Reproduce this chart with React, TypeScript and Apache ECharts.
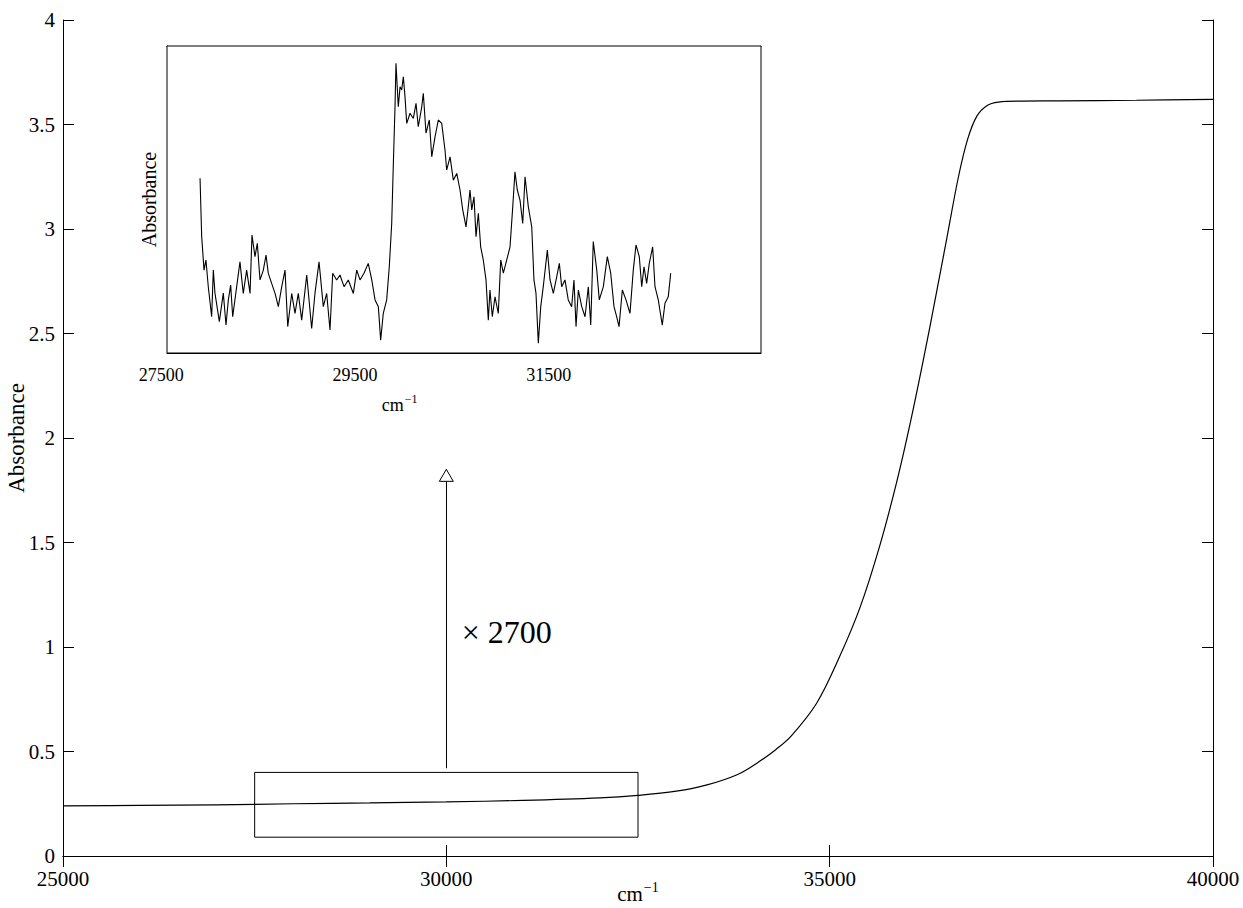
import React, { useEffect, useRef } from "react";
import * as echarts from "echarts";

const FONT = "'Liberation Serif', 'Times New Roman', Times, serif";

// Main spectrum (wavenumber in cm^-1, absorbance)
const mainWavenumber = [
  25000, 26000, 27000, 28000, 29000, 30000, 31000, 32000, 32500, 33000, 33400,
  33800, 34050, 34300, 34500, 34830, 35130, 35400, 35650, 35870, 36050, 36220,
  36380, 36530, 36680, 36800, 36920, 37050, 37200, 37500, 38000, 39000, 40000,
];
const mainAbsorbance = [
  0.24, 0.242, 0.245, 0.25, 0.254, 0.259, 0.266, 0.278, 0.29, 0.31, 0.34,
  0.39, 0.444, 0.51, 0.575, 0.731, 0.954, 1.193, 1.48, 1.783, 2.07, 2.37,
  2.67, 2.96, 3.25, 3.43, 3.54, 3.59, 3.607, 3.612, 3.613, 3.616, 3.62,
];

// Inset: magnified (x2700) region, relative units 0..100
const insetWavenumber = [
  27901, 27918, 27942, 27962, 27986, 28021, 28038, 28055, 28100, 28141, 28169,
  28193, 28217, 28238, 28279, 28313, 28347, 28382, 28417, 28437, 28468, 28492,
  28520, 28554, 28582, 28605, 28640, 28675, 28709, 28744, 28778, 28806, 28847,
  28881, 28915, 28950, 29002, 29053, 29087, 29129, 29173, 29208, 29242, 29270,
  29311, 29345, 29387, 29431, 29483, 29518, 29552, 29593, 29637, 29673, 29707,
  29741, 29765, 29792, 29827, 29854, 29879, 29895, 29913, 29923, 29947, 29965,
  29982, 29999, 30016, 30034, 30068, 30102, 30130, 30153, 30189, 30205, 30233,
  30267, 30292, 30326, 30360, 30395, 30429, 30446, 30481, 30515, 30550, 30584,
  30612, 30646, 30669, 30687, 30705, 30728, 30749, 30773, 30797, 30824, 30852,
  30876, 30893, 30917, 30945, 30979, 31004, 31031, 31066, 31100, 31128, 31151,
  31175, 31203, 31231, 31255, 31289, 31324, 31347, 31368, 31392, 31417, 31443,
  31485, 31513, 31547, 31582, 31609, 31633, 31667, 31701, 31736, 31760, 31781,
  31805, 31840, 31874, 31908, 31933, 31959, 31995, 32021, 32063, 32104, 32139,
  32173, 32201, 32225, 32259, 32297, 32338, 32372, 32400, 32434, 32459, 32483,
  32510, 32537, 32572, 32596, 32630, 32671, 32699, 32733, 32758,
];
const insetSignal = [
  56.9, 37.9, 27.0, 30.3, 21.6, 11.8, 27.0, 19.5, 10.2, 19.5, 9.1,
  17.3, 22.1, 11.8, 21.6, 29.7, 19.4, 27.0, 19.4, 38.4, 31.4, 35.7,
  23.8, 27.0, 31.9, 26.0, 22.7, 19.4, 15.1, 21.6, 27.0, 8.6, 19.4,
  12.9, 19.4, 10.7, 25.4, 8.0, 19.4, 29.7, 15.1, 19.4, 7.5, 26.0,
  23.8, 25.4, 21.6, 23.8, 19.4, 27.0, 23.8, 26.0, 29.2, 23.8, 17.3,
  15.1, 4.2, 12.9, 17.3, 28.1, 42.2, 60.7, 80.2, 94.4, 80.2, 86.7,
  85.7, 90.0, 83.5, 74.8, 78.1, 76.4, 81.3, 73.7, 80.2, 84.6, 71.6,
  75.9, 63.9, 70.4, 75.9, 74.8, 66.1, 59.6, 63.9, 56.3, 58.5, 53.1,
  46.6, 41.1, 47.6, 53.1, 46.6, 50.9, 37.9, 45.5, 34.6, 30.3, 23.8,
  10.7, 20.5, 11.8, 18.3, 12.9, 30.3, 26.0, 30.3, 34.6, 47.6, 59.0,
  53.1, 49.8, 42.2, 57.4, 47.6, 41.1, 23.8, 19.4, 3.2, 15.1, 21.6,
  33.5, 23.8, 19.4, 24.9, 29.2, 21.6, 23.8, 17.3, 15.1, 23.8, 8.6,
  20.5, 15.1, 11.8, 21.6, 9.1, 36.3, 27.0, 17.3, 21.6, 31.4, 26.0,
  15.1, 11.8, 8.6, 20.5, 17.3, 12.9, 27.0, 35.2, 31.4, 21.6, 28.1,
  22.7, 29.2, 34.6, 21.6, 17.3, 9.1, 16.2, 18.3, 26.0,
];

const mainXTicks = { min: 25000, max: 40000, step: 5000 };
const mainYTicks = { min: 0, max: 4, step: 0.5 };
const insetTickValues = [29500, 31500];
const insetFirstLabel = 27500;
const insetRange = { min: 27560, max: 33690 };

// annotation data (in main-axis units)
const zoomBox = { x0: 27500, x1: 32500, y0: 0.09, y1: 0.4 };
const arrowStart = [30000, 0.42];
const arrowTip = [30000, 1.85];
const magnifyLabel = "× 2700";
const magnifyAt = [30200, 1.07];

const AXIS_COLOR = "#000";
const plain = (v: number) => String(v);

export default function App() {
  const ref = useRef<HTMLDivElement>(null);

  useEffect(() => {
    if (!ref.current) return;
    const chart = echarts.init(ref.current, undefined, { renderer: "svg" });

    const mainData = mainWavenumber.map((x, i) => [x, mainAbsorbance[i]]);
    const insetData = insetWavenumber.map((x, i) => [x, insetSignal[i]]);

    const cmName = "{b|cm}{s|−1}";
    const cmRich = {
      b: { fontSize: 21, fontFamily: FONT, color: "#000" },
      s: { fontSize: 14, fontFamily: FONT, color: "#000", padding: [0, 0, 14, 1] },
    };

    const option: any = {
      animation: false,
      backgroundColor: "#fff",
      textStyle: { fontFamily: FONT, color: "#000" },
      grid: [
        { left: 63, right: 30, top: 20, bottom: 52, show: false, containLabel: false, outerBoundsMode: "none" },
        {
          left: 167,
          right: 482,
          top: 46,
          bottom: 555,
          show: true,
          containLabel: false,
          outerBoundsMode: "none",
          backgroundColor: "#fff",
          borderColor: "#000",
          borderWidth: 1,
          z: 5,
        },
      ],
      xAxis: [
        {
          gridIndex: 0,
          type: "value",
          min: mainXTicks.min,
          max: mainXTicks.max,
          interval: mainXTicks.step,
          position: "bottom",
          axisLine: { show: true, lineStyle: { color: AXIS_COLOR, width: 1 } },
          axisTick: { show: true, inside: true, length: 11, lineStyle: { color: AXIS_COLOR } },
          axisLabel: { color: "#000", fontSize: 21, fontFamily: FONT, margin: 12, formatter: plain },
          splitLine: { show: false },
          name: cmName,
          nameLocation: "middle",
          nameGap: 24,
          nameMoveOverlap: false,
          nameTextStyle: { rich: cmRich },
        },
        {
          gridIndex: 0,
          type: "value",
          min: mainXTicks.min,
          max: mainXTicks.max,
          interval: mainXTicks.step,
          position: "top",
          axisLine: { show: true, lineStyle: { color: AXIS_COLOR, width: 1 } },
          axisTick: { show: true, inside: true, length: 11, lineStyle: { color: AXIS_COLOR } },
          axisLabel: { show: false },
          splitLine: { show: false },
        },
        {
          gridIndex: 1,
          type: "value",
          min: insetRange.min,
          max: insetRange.max,
          position: "bottom",
          axisLine: { show: true, lineStyle: { color: AXIS_COLOR, width: 1 } },
          axisTick: {
            show: true,
            inside: true,
            length: 5,
            customValues: insetTickValues,
            lineStyle: { color: AXIS_COLOR },
          },
          axisLabel: {
            color: "#000",
            fontSize: 18,
            fontFamily: FONT,
            margin: 13,
            customValues: insetTickValues,
            formatter: plain,
          },
          splitLine: { show: false },
        },
        {
          gridIndex: 1,
          type: "value",
          min: insetRange.min,
          max: insetRange.max,
          position: "top",
          axisLine: { show: true, lineStyle: { color: AXIS_COLOR, width: 1 } },
          axisTick: {
            show: true,
            inside: true,
            length: 5,
            customValues: insetTickValues,
            lineStyle: { color: AXIS_COLOR },
          },
          axisLabel: { show: false },
          splitLine: { show: false },
        },
      ],
      yAxis: [
        {
          gridIndex: 0,
          type: "value",
          min: mainYTicks.min,
          max: mainYTicks.max,
          interval: mainYTicks.step,
          position: "left",
          axisLine: { show: true, lineStyle: { color: AXIS_COLOR, width: 1 } },
          axisTick: { show: true, inside: true, length: 11, lineStyle: { color: AXIS_COLOR } },
          axisLabel: { color: "#000", fontSize: 21, fontFamily: FONT, margin: 8, formatter: plain },
          splitLine: { show: false },
          name: "Absorbance",
          nameLocation: "middle",
          nameGap: 35,
          nameMoveOverlap: false,
          nameTextStyle: { fontSize: 23, fontFamily: FONT, color: "#000" },
        },
        {
          gridIndex: 0,
          type: "value",
          min: mainYTicks.min,
          max: mainYTicks.max,
          interval: mainYTicks.step,
          position: "right",
          axisLine: { show: true, lineStyle: { color: AXIS_COLOR, width: 1 } },
          axisTick: { show: true, inside: true, length: 11, lineStyle: { color: AXIS_COLOR } },
          axisLabel: { show: false },
          splitLine: { show: false },
        },
        {
          gridIndex: 1,
          type: "value",
          min: 0,
          max: 100,
          position: "left",
          axisLine: { show: true, lineStyle: { color: AXIS_COLOR, width: 1 } },
          axisTick: { show: false },
          axisLabel: { show: false },
          splitLine: { show: false },
          name: "Absorbance",
          nameLocation: "middle",
          nameGap: 8,
          nameMoveOverlap: false,
          nameTextStyle: { fontSize: 20, fontFamily: FONT, color: "#000" },
        },
      ],
      series: [
        {
          type: "line",
          xAxisIndex: 0,
          yAxisIndex: 0,
          data: mainData,
          showSymbol: false,
          smooth: 0.35,
          lineStyle: { color: "#000", width: 1.2 },
          z: 2,
          markArea: {
            silent: true,
            itemStyle: { color: "rgba(0,0,0,0)", borderColor: "#000", borderWidth: 1 },
            data: [[{ coord: [zoomBox.x0, zoomBox.y1] }, { coord: [zoomBox.x1, zoomBox.y0] }]],
          },
          markLine: {
            silent: true,
            symbol: ["none", "none"],
            label: { show: false },
            lineStyle: { color: "#000", width: 1, type: "solid" },
            data: [[{ coord: arrowStart }, { coord: arrowTip }]],
          },
        },
        {
          type: "line",
          xAxisIndex: 2,
          yAxisIndex: 2,
          data: insetData,
          showSymbol: false,
          lineStyle: { color: "#000", width: 1.1 },
          z: 6,
        },
      ],
    };

    chart.setOption(option);

    const tip = chart.convertToPixel({ xAxisIndex: 0, yAxisIndex: 0 }, arrowTip) as number[];
    const lab = chart.convertToPixel({ xAxisIndex: 0, yAxisIndex: 0 }, magnifyAt) as number[];
    const first = chart.convertToPixel({ xAxisIndex: 2, yAxisIndex: 2 }, [insetFirstLabel, 0]) as number[];
    const insetMid = chart.convertToPixel({ xAxisIndex: 2, yAxisIndex: 2 }, [29960, 0]) as number[];

    chart.setOption({
      graphic: [
        {
          type: "polygon",
          z: 100,
          shape: {
            points: [
              [tip[0], tip[1]],
              [tip[0] - 7, tip[1] + 12],
              [tip[0] + 7, tip[1] + 12],
            ],
          },
          style: { fill: "#fff", stroke: "#000", lineWidth: 1 },
        },
        {
          type: "text",
          z: 100,
          x: lab[0],
          y: lab[1],
          style: {
            text: magnifyLabel,
            fontSize: 32,
            fontFamily: FONT,
            fill: "#000",
            align: "left",
            verticalAlign: "middle",
          },
        },
        {
          type: "text",
          z: 100,
          x: first[0],
          y: first[1] + 13,
          style: {
            text: String(insetFirstLabel),
            fontSize: 18,
            fontFamily: FONT,
            fill: "#000",
            align: "center",
            verticalAlign: "top",
          },
        },
        {
          type: "text",
          z: 100,
          x: insetMid[0],
          y: insetMid[1] + 40,
          style: {
            text: "{b|cm}{s|−1}",
            fill: "#000",
            align: "center",
            verticalAlign: "top",
            rich: {
              b: { fontSize: 18, fontFamily: FONT, fill: "#000" },
              s: { fontSize: 12, fontFamily: FONT, fill: "#000", padding: [0, 0, 12, 1] },
            },
          },
        },
      ],
    });

    return () => chart.dispose();
  }, []);

  return (
    <div
      ref={ref}
      style={{ position: "absolute", left: 0, top: 0, width: 1243, height: 908, background: "#fff" }}
    />
  );
}
